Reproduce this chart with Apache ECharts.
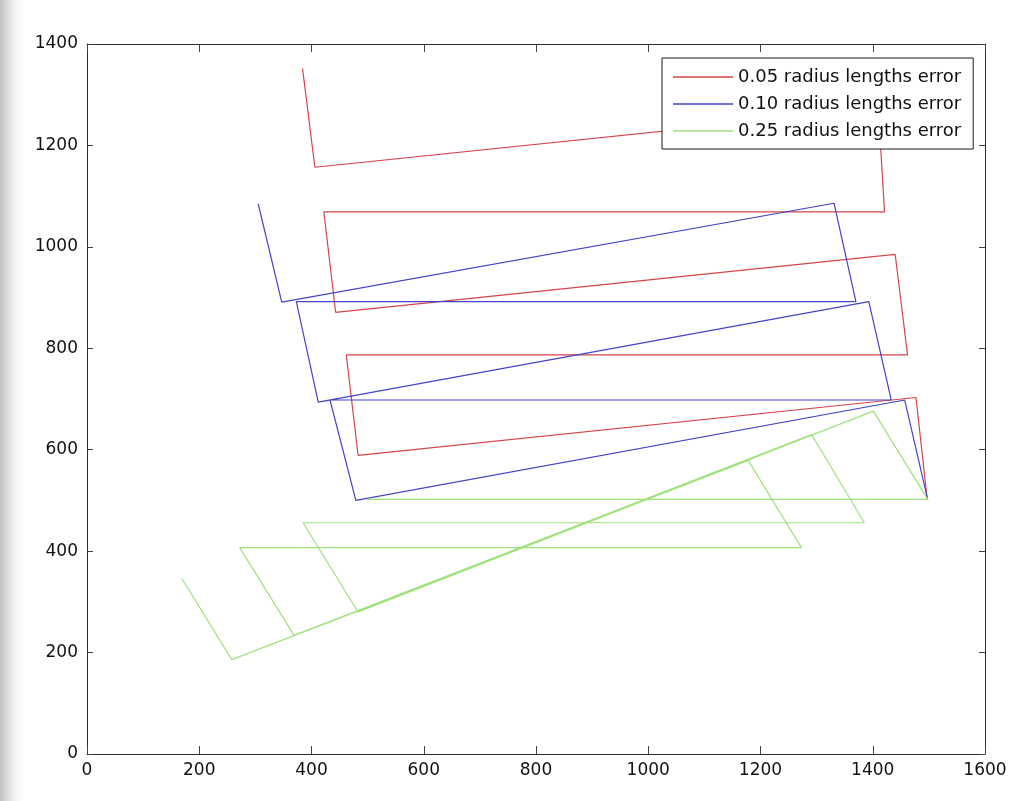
<!DOCTYPE html>
<html><head><meta charset="utf-8">
<script src="https://cdn.jsdelivr.net/npm/echarts@6/dist/echarts.min.js"></script>
<style>
html,body{margin:0;padding:0;}
body{background:linear-gradient(to right,#c2c2c2 0px,#dcdcdc 7px,#f6f6f6 16px,#ffffff 24px);}
#c{width:1019px;height:801px;}
</style>
</head><body><div id="c"></div>
<script>
// Series names (legend)
const seriesNames = ['0.05 radius lengths error', '0.10 radius lengths error', '0.25 radius lengths error'];

// Axis ticks
const xTicks = [0, 200, 400, 600, 800, 1000, 1200, 1400, 1600];
const yTicks = [0, 200, 400, 600, 800, 1000, 1200, 1400];

// 0.05 radius lengths error (red path)
const redX = [384, 406, 1410, 1421, 422, 443, 1440, 1462, 462, 483, 1477, 1497];
const redY = [1352, 1157, 1272, 1069, 1069, 871, 985, 787, 787, 589, 703, 503];

// 0.10 radius lengths error (blue path)
const blueX = [305, 347, 1331, 1370, 373, 412, 1393, 1433, 433, 479, 1457, 1498];
const blueY = [1085, 891, 1086, 892, 892, 694, 892, 698, 698, 500, 698, 501];

// 0.25 radius lengths error (green path)
const greenX = [169, 258, 1178, 1273, 272, 369, 1291, 1385, 385, 483, 1401, 1498, 499];
const greenY = [346, 186, 579, 407, 407, 234, 630, 456, 456, 280, 676, 502, 502];

function pairs(xs, ys) { return xs.map((x, i) => [x, ys[i]]); }

const chart = echarts.init(document.getElementById('c'));
const FONT = 'DejaVu Sans';
const lineCol = '#2b2b2b';

function xAx(pos, labels) {
  return {
    type: 'value', position: pos,
    min: xTicks[0], max: xTicks[xTicks.length - 1], interval: 200,
    axisLine: { show: true, onZero: false, lineStyle: { color: lineCol, width: 1 } },
    axisTick: { show: true, inside: true, length: 8, lineStyle: { color: '#444' } },
    axisLabel: { show: labels, fontSize: 17, fontFamily: FONT, color: '#111', margin: 8,
                 showMinLabel: true, showMaxLabel: true, formatter: v => String(v) },
    splitLine: { show: false }
  };
}
function yAx(pos, labels) {
  return {
    type: 'value', position: pos,
    min: yTicks[0], max: yTicks[yTicks.length - 1], interval: 200,
    axisLine: { show: true, onZero: false, lineStyle: { color: lineCol, width: 1 } },
    axisTick: { show: true, inside: true, length: 6, lineStyle: { color: '#444' } },
    axisLabel: { show: labels, fontSize: 17, fontFamily: FONT, color: '#111', margin: 9,
                 showMinLabel: true, showMaxLabel: true, formatter: v => String(v) },
    splitLine: { show: false }
  };
}

const colors = ['#d4454a', '#4343cc', '#9ee27c'];
const datasets = [pairs(redX, redY), pairs(blueX, blueY), pairs(greenX, greenY)];

chart.setOption({
  animation: false,
  grid: { left: 87, right: 34, top: 44, bottom: 47 },
  xAxis: [xAx('bottom', true), xAx('top', false)],
  yAxis: [yAx('left', true), yAx('right', false)],
  legend: {
    orient: 'vertical', left: 662, top: 58,
    icon: 'rect', itemWidth: 60, itemHeight: 1.4, itemGap: 9,
    padding: [10, 12, 9, 11],
    borderColor: '#1a1a1a', borderWidth: 1, backgroundColor: '#fff',
    textStyle: { fontSize: 18, fontFamily: FONT, color: '#111' },
    data: seriesNames
  },
  series: seriesNames.map((n, i) => ({
    name: n, type: 'line', data: datasets[i],
    xAxisIndex: 0, yAxisIndex: 0,
    symbol: 'none', showSymbol: false,
    lineStyle: { color: colors[i], width: 1.2 },
    itemStyle: { color: colors[i] }
  }))
});
</script>
</body></html>
